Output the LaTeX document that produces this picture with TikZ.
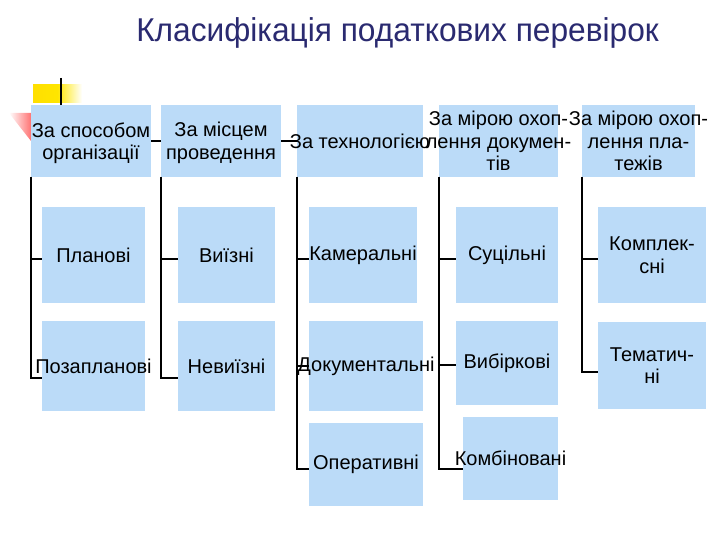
\documentclass[tikz,border=0pt]{standalone}
\usepackage{fontspec}
\setmainfont{Liberation Sans}
\definecolor{boxblue}{RGB}{187,219,248}
\definecolor{titlecol}{RGB}{42,42,112}
\tikzset{
  box/.style={fill=boxblue, draw=none, inner sep=0pt, outer sep=0pt},
  lbl/.style={font=\fontsize{20}{22.5}\selectfont, align=center, inner sep=0pt, text=black},
  conn/.style={draw=black, line width=1.8pt},
  ttl/.style={font=\fontsize{33}{36}\selectfont, text=titlecol, inner sep=0pt, anchor=base}
}
\begin{document}
\begin{tikzpicture}[x=1pt,y=-1pt]
\useasboundingbox (0,0) rectangle (720,540);
% decorations
\shade[left color=yellow!75!orange, right color=white, middle color=yellow!80!orange] (33,85) rectangle (82,103);
\shade[left color=white, right color=red!55] (9,113) -- (31,113) -- (31,141) -- cycle;
% title
\node[ttl] (title) at (397.5,42) {\scalebox{0.96}[1]{Класифікація податкових перевірок}};
% top boxes
\node[box, minimum width=120pt, minimum height=72pt] (b1) at (91,141) {};
\node[box, minimum width=120pt, minimum height=72pt] (b2) at (221,141) {};
\node[box, minimum width=126pt, minimum height=72pt] (b3) at (360,141) {};
\node[box, minimum width=119pt, minimum height=72pt] (b4) at (498.5,141) {};
\node[box, minimum width=113pt, minimum height=72pt] (b5) at (638.5,141) {};
% children
\node[box, minimum width=103pt, minimum height=96pt] (c11) at (93.5,255) {};
\node[box, minimum width=103pt, minimum height=90pt] (c12) at (93.5,366) {};
\node[box, minimum width=97pt, minimum height=96pt] (c21) at (226.5,255) {};
\node[box, minimum width=97pt, minimum height=90pt] (c22) at (226.5,366) {};
\node[box, minimum width=108pt, minimum height=96pt] (c31) at (363,255) {};
\node[box, minimum width=114pt, minimum height=90pt] (c32) at (366,366) {};
\node[box, minimum width=114pt, minimum height=83pt] (c33) at (366,464.5) {};
\node[box, minimum width=102pt, minimum height=96pt] (c41) at (507,255) {};
\node[box, minimum width=102pt, minimum height=84pt] (c42) at (507,363) {};
\node[box, minimum width=95pt, minimum height=83pt] (c43) at (510.5,458.5) {};
\node[box, minimum width=108pt, minimum height=96pt] (c51) at (652,255) {};
\node[box, minimum width=108pt, minimum height=87pt] (c52) at (652,365.5) {};
% connectors
\coordinate (root) at (61,78);
\draw[conn] (root) -- (root |- b1.north);
\draw[conn] (b1.east) -- (b2.west);
\draw[conn] (b2.east) -- (b3.west);
\draw[conn] (b1.south west) |- ([yshift=-4pt]c11.west);
\draw[conn] (b1.south west) |- ([yshift=-12pt]c12.west);
\draw[conn] (b2.south west) |- ([yshift=-4pt]c21.west);
\draw[conn] (b2.south west) |- ([yshift=-12pt]c22.west);
\draw[conn] (b3.south west) |- ([yshift=-4pt]c31.west);
\draw[conn] (b3.south west) |- (c32.west);
\draw[conn] (b3.south west) |- ([yshift=-4.5pt]c33.west);
\draw[conn] (b4.south west) |- ([yshift=-4pt]c41.west);
\draw[conn] (b4.south west) |- ([yshift=-2pt]c42.west);
\draw[conn] (b4.south west) |- ([yshift=-10.5pt]c43.west);
\draw[conn] (b5.south west) |- ([yshift=-4pt]c51.west);
\draw[conn] (b5.south west) |- ([yshift=-6.5pt]c52.west);
% labels
\node[lbl] (b1t) at ([yshift=-2pt]b1.center) {За способом\\організації};
\node[lbl] (b2t) at ([yshift=-2pt]b2.center) {За місцем\\проведення};
\node[lbl] (b3t) at (b3) {За технологією};
\node[lbl] (b4t) at (b4) {За мірою охоп-\\лення докумен-\\тів};
\node[lbl] (b5t) at (b5) {За мірою охоп-\\лення пла-\\тежів};
\node[lbl] (c11t) at (c11) {Планові};
\node[lbl] (c12t) at (c12) {Позапланові};
\node[lbl] (c21t) at (c21) {Виїзні};
\node[lbl] (c22t) at (c22) {Невиїзні};
\node[lbl] (c31t) at (c31) {Камеральні};
\node[lbl] (c32t) at (c32) {Документальні};
\node[lbl] (c33t) at (c33) {Оперативні};
\node[lbl] (c41t) at (c41) {Суцільні};
\node[lbl] (c42t) at (c42) {Вибіркові};
\node[lbl] (c43t) at (c43) {Комбіновані};
\node[lbl] (c51t) at (c51) {Комплек-\\сні};
\node[lbl] (c52t) at (c52) {Тематич-\\ні};
\end{tikzpicture}
\end{document}
